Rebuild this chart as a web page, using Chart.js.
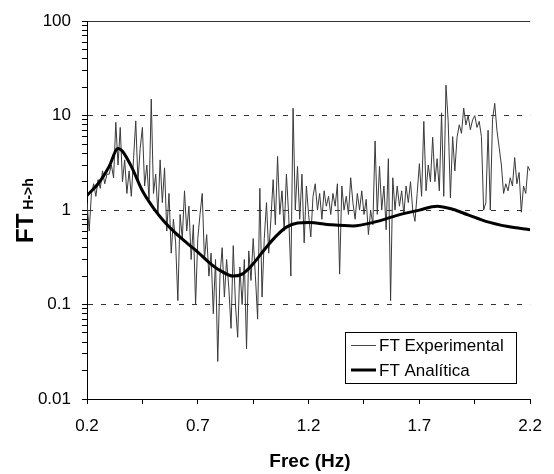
<!DOCTYPE html>
<html>
<head>
<meta charset="utf-8">
<script src="https://cdn.jsdelivr.net/npm/chart.js@4.4.0/dist/chart.umd.min.js"></script>
<style>
  html, body { margin: 0; padding: 0; background: #fff; }
  canvas { display: block; }
</style>
</head>
<body>
<canvas id="ft" width="554" height="474"></canvas>
<script>
// experimental transfer function, one value every 0.01 Hz from 0.20 Hz
var expStart = 0.2, expStep = 0.01;
var expFT = [
  1.2, 0.6, 1.5, 1.9, 1.4, 2.1, 1.7, 2.6, 1.9, 2.4,
  2.4, 3.0, 2.2, 8.5, 3.0, 7.5, 2.0, 3.4, 1.5, 2.6,
  1.4, 3.5, 8.8, 2.0, 4.5, 7.5, 1.8, 3.0, 1.3, 15,
  1.5, 2.4, 0.9, 3.4, 1.2, 2.8, 0.6, 1.5, 0.35, 0.8,
  0.45, 0.11, 0.9, 0.5, 1.6, 0.6, 1.1, 0.3, 0.7, 0.1,
  0.5, 0.9, 1.5, 0.3, 0.55, 0.2, 0.35, 0.08, 0.3, 0.025,
  0.2, 0.4, 0.12, 0.3, 0.15, 0.056, 0.42, 0.1, 0.045, 0.25,
  0.1, 0.3, 0.034, 0.37, 0.18, 0.5, 0.2, 0.07, 1.7, 0.12,
  0.5, 1.2, 0.35, 0.8, 2.1, 0.7, 3.7, 0.9, 1.6, 0.6,
  2.4, 0.9, 0.2, 12, 1.0, 2.9, 0.8, 2.4, 0.45, 1.8,
  0.9, 0.52, 1.4, 1.9, 1.0, 1.5, 0.8, 1.6, 1.1, 1.4,
  0.9, 1.5, 1.1, 1.9, 0.21, 1.8, 1.0, 1.4, 0.9, 2.2,
  1.2, 0.8, 1.5, 1.0, 1.6, 0.9, 1.3, 0.55, 1.0, 0.7,
  5.4, 0.9, 2.9, 1.0, 1.8, 0.62, 3.5, 0.11, 2.2, 1.0,
  1.8, 1.1, 1.6, 0.9, 1.8, 1.2, 2.0, 1.0, 0.76, 1.5,
  3.1, 1.4, 8.7, 1.6, 3.0, 2.0, 5.9, 2.0, 3.5, 1.6,
  10.7, 1.4, 21, 8.7, 1.35, 6, 2.6, 5.9, 8, 6.5,
  12, 8, 10, 7.1, 9, 10, 7.5, 8.7, 6, 1.0,
  1.2, 7, 1.0, 9, 13.5, 7, 4.6, 3.0, 1.5, 1.9,
  1.6, 2.2, 1.8, 3.6, 1.9, 2.5, 0.95, 1.8, 1.5, 2.9,
  2.6
];

// analytical curve
var anaFreq = [0.20, 0.25, 0.30, 0.34, 0.36, 0.40, 0.45, 0.50, 0.55, 0.60, 0.65, 0.70, 0.75, 0.80, 0.86, 0.90, 0.95,
               1.00, 1.05, 1.10, 1.15, 1.20, 1.30, 1.40, 1.50, 1.60, 1.70, 1.78, 1.85, 1.92, 2.00, 2.10, 2.20];
var anaFT = [1.43, 1.9, 2.9, 4.5, 4.2, 2.9, 1.6, 1.05, 0.75, 0.57, 0.45, 0.36, 0.28, 0.23, 0.20, 0.21, 0.27,
             0.38, 0.52, 0.66, 0.73, 0.74, 0.70, 0.68, 0.75, 0.88, 1.0, 1.10, 1.02, 0.89, 0.76, 0.67, 0.62];

var xTicks = [0.2, 0.45, 0.7, 0.95, 1.2, 1.45, 1.7, 1.95, 2.2];
var xLabels = ['0.2', '', '0.7', '', '1.2', '', '1.7', '', '2.2'];
var yDecades = [0.01, 0.1, 1, 10, 100];
var yLabels = ['0.01', '0.1', '1', '10', '100'];
var seriesNames = ['FT Experimental', 'FT Analítica'];

var FONT = '"Liberation Sans", Arial, sans-serif';

var expPts = [];
for (var i = 0; i < expFT.length; i++) {
  expPts.push({x: +(expStart + i * expStep).toFixed(2), y: expFT[i]});
}
var anaPts = [];
for (var j = 0; j < anaFreq.length; j++) {
  anaPts.push({x: anaFreq[j], y: anaFT[j]});
}

function isDecade(v) {
  var lg = Math.log10(v);
  return Math.abs(lg - Math.round(lg)) < 1e-6;
}
function decadeLabel(v) {
  for (var k = 0; k < yDecades.length; k++) {
    if (Math.abs(Math.log10(v) - Math.log10(yDecades[k])) < 1e-6) return yLabels[k];
  }
  return '';
}

var extras = {
  id: 'extras',
  beforeDraw: function(chart) {
    var c = chart.ctx;
    c.save();
    c.fillStyle = '#fff';
    c.fillRect(0, 0, chart.width, chart.height);
    c.restore();
  },
  afterDraw: function(chart) {
    var c = chart.ctx;
    c.save();
    // y axis title FT with subscript
    c.fillStyle = '#000';
    c.translate(33, 243);
    c.rotate(-Math.PI / 2);
    c.textAlign = 'left';
    c.textBaseline = 'alphabetic';
    c.font = 'bold 24px ' + FONT;
    c.fillText('FT', 0, 0);
    var w = c.measureText('FT').width;
    c.font = 'bold 14px ' + FONT;
    c.fillText('H->h', w + 4, 0);
    c.restore();

    // x axis title
    c.save();
    c.fillStyle = '#000';
    c.font = 'bold 19px ' + FONT;
    c.textAlign = 'center';
    c.textBaseline = 'middle';
    c.fillText('Frec (Hz)', 310, 462);
    c.restore();

    // legend box
    c.save();
    c.fillStyle = '#fff';
    c.fillRect(345.5, 332.5, 171, 51);
    c.strokeStyle = '#000';
    c.lineWidth = 1;
    c.strokeRect(345.5, 332.5, 171, 51);
    c.beginPath();
    c.strokeStyle = '#444';
    c.lineWidth = 1;
    c.moveTo(351, 345.5);
    c.lineTo(376, 345.5);
    c.stroke();
    c.beginPath();
    c.strokeStyle = '#000';
    c.lineWidth = 3;
    c.moveTo(351, 370);
    c.lineTo(376, 370);
    c.stroke();
    c.fillStyle = '#000';
    c.font = '17px ' + FONT;
    c.textAlign = 'left';
    c.textBaseline = 'middle';
    c.fillText(seriesNames[0], 379, 346);
    c.fillText(seriesNames[1], 379, 371);
    c.restore();
  }
};

var chart = new Chart(document.getElementById('ft').getContext('2d'), {
  type: 'line',
  data: {
    datasets: [{
      label: seriesNames[0],
      data: expPts,
      borderColor: '#3a3a3a',
      borderWidth: 1,
      pointRadius: 0,
      tension: 0,
      order: 1
    }, {
      label: seriesNames[1],
      data: anaPts,
      borderColor: '#000',
      borderWidth: 3,
      pointRadius: 0,
      cubicInterpolationMode: 'monotone',
      order: 0
    }]
  },
  options: {
    responsive: false,
    animation: false,
    devicePixelRatio: 1,
    layout: {padding: {left: 0, right: 21, top: 15, bottom: 0}},
    plugins: {legend: {display: false}, tooltip: {enabled: false}},
    scales: {
      x: {
        type: 'linear',
        min: 0.2,
        max: 2.2,
        afterBuildTicks: function(scale) {
          scale.ticks = xTicks.map(function(v) { return {value: v}; });
        },
        afterFit: function(scale) { scale.height = 75; },
        ticks: {
          autoSkip: false,
          maxRotation: 0,
          color: '#000',
          font: {family: FONT, size: 17},
          padding: 12,
          callback: function(v, i) { return xLabels[i]; }
        },
        grid: {drawOnChartArea: false, tickLength: 5, color: '#000'},
        border: {color: '#000', width: 1}
      },
      y: {
        type: 'logarithmic',
        min: 0.01,
        max: 100,
        afterBuildTicks: function(scale) {
          var t = [];
          for (var e = -2; e <= 1; e++) {
            for (var m = 1; m <= 9; m++) t.push({value: m * Math.pow(10, e)});
          }
          t.push({value: 100});
          scale.ticks = t;
        },
        afterFit: function(scale) { scale.width = 87; },
        ticks: {
          autoSkip: false,
          color: '#000',
          font: {family: FONT, size: 17},
          padding: 11,
          callback: function(v) { return isDecade(v) ? decadeLabel(v) : ''; }
        },
        grid: {
          tickLength: 5,
          tickColor: '#000',
          color: function(ctx) {
            var v = ctx.tick && ctx.tick.value;
            if (!v || v < 0.05) return 'rgba(0,0,0,0)';
            return isDecade(v) ? '#333' : 'rgba(0,0,0,0)';
          }
        },
        border: {
          color: '#000',
          width: 1,
          dash: function(ctx) {
            return ctx.tick && ctx.tick.value > 50 ? [] : [5, 8];
          }
        }
      }
    }
  },
  plugins: [extras]
});
</script>
</body>
</html>
